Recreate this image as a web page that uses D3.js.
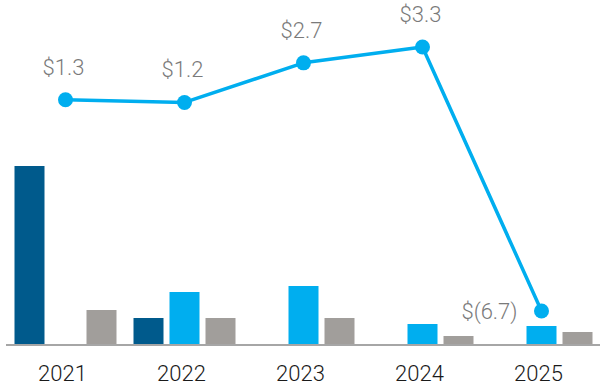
<!DOCTYPE html>
<html>
<head>
	<title></title>
	<script src="https://d3js.org/d3.v7.min.js"></script>
	<style>
		body { margin: 0; background: #fff; }
		text { font-family: Roboto, "Open Sans", sans-serif; }
	</style>
</head>
<body>
	<div id="chart"></div>
	<script type="text/javascript">
		// data.........................................
		var years = ['2021', '2022', '2023', '2024', '2025'];
		var seriesKeys = ['dark', 'light', 'grey'];
		var darkValues = [17.8, 2.6, null, null, null];
		var lightValues = [null, 5.2, 5.8, 2.0, 1.8];
		var greyValues = [3.4, 2.6, 2.6, 0.8, 1.2];
		var lineValues = [1.3, 1.2, 2.7, 3.3, -6.7];
		var lineLabels = ['$1.3', '$1.2', '$2.7', '$3.3', '$(6.7)'];

		var colors = { dark: '#005a8c', light: '#00aeef', grey: '#a19e9b' };

		var width = 600;
		var height = 388;
		var baseline = 344;

		var svg = d3.select('#chart').append('svg')
			.attr('width', width)
			.attr('height', height);

		// scales.........................................
		var x0 = d3.scaleBand()
			.domain(years)
			.range([6, 601])
			.paddingInner(17 / 119)
			.paddingOuter(8.5 / 119);

		var x1 = d3.scaleBand()
			.domain(seriesKeys)
			.range([0, x0.bandwidth()])
			.paddingInner(6 / 36);

		var yBar = d3.scaleLinear()
			.domain([0, 20])
			.range([baseline, baseline - 200]);

		var yLine = d3.scaleLinear()
			.domain([-6.7, 3.3])
			.range([311, 47]);

		// bars...........................................
		var barData = [];
		years.forEach(function(y, i) {
			barData.push({ year: y, key: 'dark', value: darkValues[i] });
			barData.push({ year: y, key: 'light', value: lightValues[i] });
			barData.push({ year: y, key: 'grey', value: greyValues[i] });
		});

		svg.append('g')
			.selectAll('rect')
			.data(barData.filter(d => d.value != null))
			.enter()
			.append('rect')
			.attr('x', d => x0(d.year) + x1(d.key))
			.attr('width', x1.bandwidth())
			.attr('y', d => yBar(d.value))
			.attr('height', d => baseline - yBar(d.value))
			.style('fill', d => colors[d.key]);

		// x axis.........................................
		var xAxis = d3.axisBottom(x0).tickSize(0).tickPadding(0);
		var xGuide = svg.append('g')
			.attr('transform', 'translate(0,' + (baseline + 1) + ')')
			.call(xAxis);
		xGuide.select('.domain').remove();
		xGuide.append('line')
			.attr('x1', 6)
			.attr('x2', width)
			.style('stroke', '#a6a6a6')
			.style('stroke-width', 2);
		xGuide.selectAll('text')
			.attr('x', -3)
			.attr('y', 36)
			.attr('dy', 0)
			.style('font-size', '22px')
			.style('font-weight', 300)
			.style('fill', '#1a1a1a');

		// line...........................................
		var cx = (d, i) => x0(years[i]) + x0.bandwidth() / 2;

		var line = d3.line()
			.x(cx)
			.y(d => yLine(d));

		svg.append('path')
			.datum(lineValues)
			.attr('d', line)
			.style('fill', 'none')
			.style('stroke', '#00aeef')
			.style('stroke-width', 3.5)
			.style('stroke-linejoin', 'round');

		svg.append('g')
			.selectAll('circle')
			.data(lineValues)
			.enter()
			.append('circle')
			.attr('cx', cx)
			.attr('cy', d => yLine(d))
			.attr('r', 7.5)
			.style('fill', '#00aeef');

		svg.append('g')
			.selectAll('text')
			.data(lineValues)
			.enter()
			.append('text')
			.attr('x', (d, i) => d < 0 ? cx(d, i) - 24 : cx(d, i) - 2)
			.attr('y', d => d < 0 ? yLine(d) + 8 : yLine(d) - 25)
			.attr('text-anchor', d => d < 0 ? 'end' : 'middle')
			.style('font-size', '22px')
			.style('font-weight', 300)
			.style('fill', '#7a7a7a')
			.text((d, i) => lineLabels[i]);
	</script>
</body>
</html>
